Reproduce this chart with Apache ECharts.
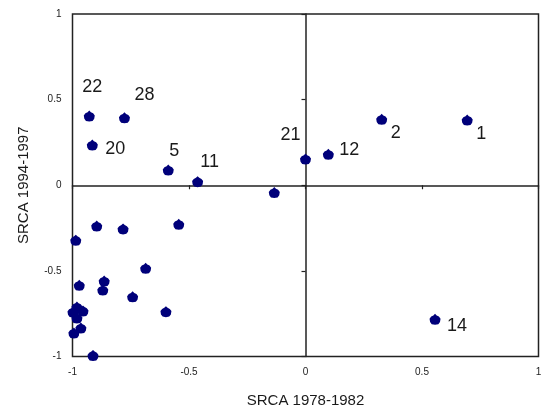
<!DOCTYPE html>
<html><head><meta charset="utf-8">
<script src="https://cdn.jsdelivr.net/npm/echarts@6/dist/echarts.min.js"></script>
<style>html,body{margin:0;padding:0;background:#fff}#c{width:547px;height:414px}</style>
</head><body><div id="c"></div>
<script>
// Data (SRCA 1978-1982 vs SRCA 1994-1997)
const pointLabels = ['22','28','20','5','11','21','12','2','1','14','','','','','','','','','','','','','','','','','',''];
const xValues = [-0.928,-0.777,-0.915,-0.589,-0.463,0.0,0.098,0.327,0.694,0.556,
  -0.134,-0.896,-0.783,-0.544,-0.986,-0.686,-0.971,-0.864,-0.870,-0.742,-0.599,
  -0.998,-0.981,-0.955,-0.981,-0.964,-0.994,-0.912];
const yValues = [0.404,0.394,0.235,0.089,0.021,0.153,0.181,0.385,0.381,-0.783,
  -0.043,-0.238,-0.255,-0.228,-0.321,-0.485,-0.584,-0.559,-0.612,-0.651,-0.738,
  -0.740,-0.711,-0.734,-0.775,-0.834,-0.863,-0.994];
const tickValues = [-1,-0.5,0,0.5,1];
const xTitle = 'SRCA 1978-1982';
const yTitle = 'SRCA 1994-1997';

// label placement (style only)
const labelOffsets = {'22':[3,-29],'28':[20,-23],'20':[23,4],'5':[6,-19],'11':[12,-20],
  '21':[-15,-24],'12':[21,-4],'2':[14,14],'1':[14,14],'14':[22,7]};

const FONT = '"Liberation Sans", Arial, sans-serif';
const data = xValues.map((x,i)=>{
  const name = pointLabels[i];
  const item = {name:name, value:[x,yValues[i]]};
  if (name) {
    item.label = {show:true, position:'inside', offset:labelOffsets[name], formatter:'{b}',
      fontSize:18, color:'#1a1a1a', fontFamily:FONT};
  }
  return item;
});
const fmt = v => String(v);
const chart = echarts.init(document.getElementById('c'), null, {renderer:'canvas'});
chart.setOption({
  animation:false,
  backgroundColor:'#fff',
  grid:{left:72.5, top:14, right:8.5, bottom:57.5, show:true, borderColor:'#222', borderWidth:1.5, backgroundColor:'transparent'},
  xAxis:[
    {type:'value', min:tickValues[0], max:tickValues[tickValues.length-1], interval:0.5, position:'bottom',
     axisLine:{show:false, onZero:false}, axisTick:{show:false}, splitLine:{show:false},
     axisLabel:{margin:11, fontSize:10, color:'#222', fontFamily:FONT, formatter:fmt},
     name:xTitle, nameLocation:'middle', nameGap:37, nameTextStyle:{fontSize:15, color:'#1a1a1a', fontFamily:FONT}},
    {type:'value', min:tickValues[0], max:tickValues[tickValues.length-1], interval:0.5, position:'bottom',
     axisLine:{show:true, onZero:true, onZeroAxisIndex:0, lineStyle:{color:'#222', width:1.5}},
     axisTick:{show:true, length:4, lineStyle:{color:'#222', width:1.2}}, axisLabel:{show:false}, splitLine:{show:false}}
  ],
  yAxis:[
    {type:'value', min:tickValues[0], max:tickValues[tickValues.length-1], interval:0.5, position:'left',
     axisLine:{show:false, onZero:false}, axisTick:{show:false}, splitLine:{show:false},
     axisLabel:{margin:11, fontSize:10, color:'#222', fontFamily:FONT, formatter:fmt},
     name:yTitle, nameLocation:'middle', nameGap:41, nameTextStyle:{fontSize:15, color:'#1a1a1a', fontFamily:FONT}},
    {type:'value', min:tickValues[0], max:tickValues[tickValues.length-1], interval:0.5, position:'left',
     axisLine:{show:true, onZero:true, onZeroAxisIndex:0, lineStyle:{color:'#222', width:1.5}},
     axisTick:{show:true, length:4, lineStyle:{color:'#222', width:1.2}}, axisLabel:{show:false}, splitLine:{show:false}}
  ],
  series:[{
    type:'scatter', xAxisIndex:0, yAxisIndex:0,
    symbol:'path://M5,0 L6.5,1.5 L8.5,2.5 L10,4.5 L9.5,7.5 L8,9.5 L5,10 L2,9.5 L0.5,7.5 L0,4.5 L1.5,2.5 L3.5,1.5 Z',
    symbolSize:[11,11],
    itemStyle:{color:'#00007a', opacity:1},
    label:{show:false},
    data:data
  }]
});
</script></body></html>
